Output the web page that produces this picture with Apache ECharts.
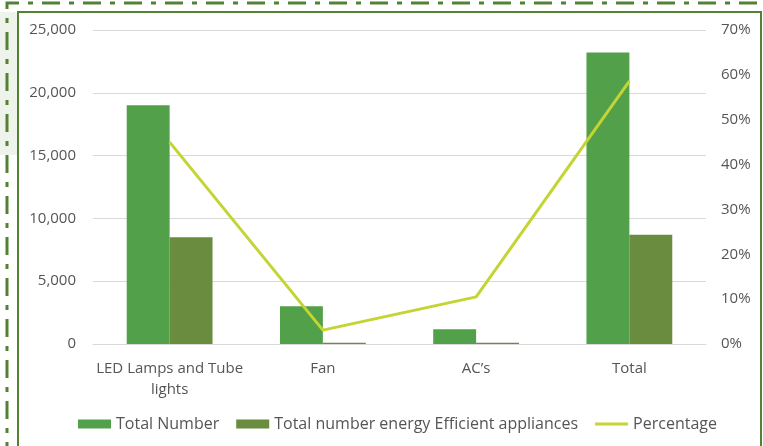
<!DOCTYPE html>
<html lang="en">
<head>
  <meta charset="UTF-8">
  <title>Appliances</title>
  <style>
    html, body { margin: 0; padding: 0; background: #fff; }
    #root { width: 763px; height: 446px; }
  </style>
</head>
<body>
  <div id="root"></div>
</body>
<script src="https://cdn.jsdelivr.net/npm/echarts@6/dist/echarts.min.js"></script>
<script>
  // values
  const categories = ['LED Lamps and Tube\nlights', 'Fan', 'AC\u2019s', 'Total']
  const totalNumber = [19000, 3000, 1170, 23200]
  const efficientNumber = [8500, 100, 100, 8700]
  const percentage = [0.45, 0.031, 0.105, 0.586]
  const leftTicks = [0, 25000, 5000]   // min, max, interval
  const rightTicks = [0, 0.7, 0.1]

  const textColor = '#555555'
  const font = 'Open Sans'
  const frameColor = '#548235'

  let myChart = echarts.init(document.getElementById('root'))

  let option = {
    backgroundColor: '#fff',
    textStyle: { fontFamily: font },
    graphic: [
      { type: 'rect', shape: { x: 0, y: 12, width: 17, height: 143 }, style: { fill: '#eef3ec' }, silent: true },
      { type: 'polyline', shape: { points: [[7, 460], [7, 3], [770, 3]] },
        style: { stroke: frameColor, lineWidth: 3, fill: null, lineDash: [18, 9, 5, 9] }, silent: true },
      { type: 'rect', shape: { x: 18, y: 12, width: 743, height: 450 },
        style: { stroke: frameColor, lineWidth: 2, fill: 'transparent' }, silent: true, z: -1 }
    ],
    grid: { left: 93, right: 57, top: 30, bottom: 102 },
    legend: {
      bottom: 9,
      left: 73,
      itemGap: 17,
      itemWidth: 33,
      itemHeight: 9,
      textStyle: { color: textColor, fontSize: 16, fontFamily: font },
      data: [
        { name: 'Total Number', icon: 'rect' },
        { name: 'Total number energy Efficient appliances', icon: 'rect' },
        { name: 'Percentage', icon: 'path://M0,0L0.01,0ZM0,3h33v3h-33zM0,9L0.01,9Z' }
      ]
    },
    xAxis: {
      type: 'category',
      data: categories,
      axisLine: { lineStyle: { color: '#d9d9d9' } },
      axisTick: { show: false },
      axisLabel: { interval: 0, color: textColor, fontSize: 15, lineHeight: 21, margin: 14, fontFamily: font }
    },
    yAxis: [
      {
        type: 'value',
        min: leftTicks[0], max: leftTicks[1], interval: leftTicks[2],
        axisLabel: {
          color: textColor, fontSize: 15, margin: 17, fontFamily: font,
          formatter: v => v.toLocaleString('en-US')
        },
        splitLine: { lineStyle: { color: '#d9d9d9' } }
      },
      {
        type: 'value',
        min: rightTicks[0], max: rightTicks[1], interval: rightTicks[2],
        axisLabel: {
          color: textColor, fontSize: 15, margin: 15, fontFamily: font,
          formatter: v => Math.round(v * 100) + '%'
        },
        splitLine: { show: false }
      }
    ],
    series: [
      {
        name: 'Total Number',
        type: 'bar',
        data: totalNumber,
        barGap: 0,
        barCategoryGap: '44%',
        itemStyle: { color: '#52a04a' }
      },
      {
        name: 'Total number energy Efficient appliances',
        type: 'bar',
        data: efficientNumber,
        itemStyle: { color: '#698c3f' }
      },
      {
        name: 'Percentage',
        type: 'line',
        yAxisIndex: 1,
        data: percentage,
        symbol: 'none',
        lineStyle: { color: '#c3d433', width: 3 },
        itemStyle: { color: '#c3d433' },
        z: 5
      }
    ]
  };

  myChart.setOption(option)
</script>
</html>
